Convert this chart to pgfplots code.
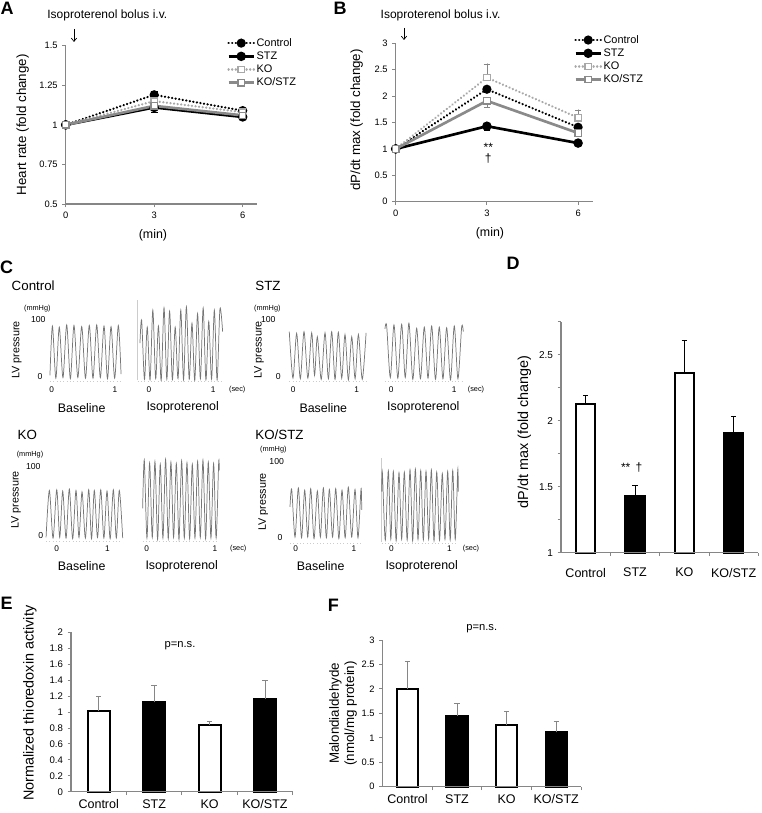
\documentclass[border=0pt]{standalone}
\usepackage{fontspec}
\setmainfont{Liberation Sans}
\usepackage{pgfplots}
\pgfplotsset{compat=1.18}
\usetikzlibrary{arrows.meta}

\definecolor{axgray}{RGB}{134,134,134}
\definecolor{kogray}{RGB}{168,168,168}
\definecolor{kostzgray}{RGB}{138,138,138}
\definecolor{tracegray}{RGB}{118,118,118}
\newcommand{\fsz}[1]{\fontsize{#1}{#1}\selectfont}

\pgfplotsset{
  xl/.style={scale only axis, axis lines=left,
    axis line style={-, draw=axgray, line width=1.1pt},
    tick align=outside, major tick length=2.5pt,
    tick style={draw=axgray, line width=0.7pt},
    /pgf/number format/assume math mode=true, clip=false, axis on top},
  tr/.style={scale only axis, hide axis, clip=false, ymin=-10, ymax=125},
  trl/.style={smooth, tension=0.5, draw=tracegray, line width=0.55pt, no marks},
  zero/.style={draw=gray!40, dotted, line width=0.5pt, no marks},
  ctrl/.style={black, line width=1.8pt, dash pattern=on 0.1pt off 2.6pt, line cap=round,
    mark=*, mark size=2.5pt, mark options={solid, fill=black}},
  stz/.style={black, line width=2pt, mark=*, mark size=2.5pt, mark options={solid, fill=black}},
  ko/.style={kogray, line width=1.8pt, dash pattern=on 0.1pt off 2.6pt, line cap=round,
    mark=square*, mark size=2.4pt, mark options={solid, fill=white, draw=kogray, line width=0.9pt}},
  kostz/.style={kostzgray, line width=2pt, mark=square*, mark size=2.4pt,
    mark options={solid, fill=white, draw=kostzgray, line width=0.9pt}},
  lcurve/.style={legend style={draw=none, fill=none, font=\fsz{8.2}, inner sep=0pt,
      row sep=0.6pt, nodes={inner sep=1pt}},
    legend cell align=left,
    legend image code/.code={\draw[mark repeat=2,mark phase=2,##1] plot coordinates {(0pt,0pt) (9.5pt,0pt) (19pt,0pt)};}},
  bars/.style={xl, ybar, bar shift=0pt, xmin=-0.5, xmax=3.5,
    xtick={0.5,1.5,2.5,3.5}, xticklabels={},
    extra x ticks={0,1,2,3}, extra x tick labels={Control,STZ,KO,KO/STZ},
    extra x tick style={tick style={draw=none}},
    xticklabel style={font=\fsz{9.4}}},
}

\begin{document}
\begin{tikzpicture}[x=0.75pt, y=-0.75pt]
\path[use as bounding box] (0,0) rectangle (762,813);

% ---------- A ----------
\coordinate (cA) at (65.7,204);
\begin{axis}[xl, lcurve, at={(cA)}, anchor=south west, width=143.8pt, height=118.7pt,
    xmin=0, xmax=6.5, ymin=0.5, ymax=1.5,
    xtick={0,3,6}, ytick={0.5,0.75,1,1.25,1.5}, yticklabels={0.5,0.75,1,1.25,1.5},
    ticklabel style={font=\fsz{7}},
    ylabel={Heart rate (fold change)},
    ylabel style={font=\fsz{10}, at={(axis description cs:-0.224,0.5)}, anchor=center},
    xlabel={(min)},
    xlabel style={font=\fsz{9.3}, at={(axis description cs:0.455,-0.196)}, anchor=center},
    legend style={at={(0.841,1.058)}, anchor=north west}]
\addplot[ctrl, error bars/.cd, y dir=plus, y explicit, error bar style={solid, black, line width=0.6pt}]
  coordinates {(0,1) +- (0,0) (3,1.19) +- (0,0.02) (6,1.09) +- (0,0.01)};
\addlegendentry{Control}
\addplot[stz, error bars/.cd, y dir=minus, y explicit, error bar style={solid, black, line width=0.6pt}]
  coordinates {(0,1) +- (0,0) (3,1.11) +- (0,0.03) (6,1.05) +- (0,0.015)};
\addlegendentry{STZ}
\addplot[ko, error bars/.cd, y dir=plus, y explicit, error bar style={solid, axgray, line width=0.6pt}]
  coordinates {(0,1) +- (0,0) (3,1.15) +- (0,0.02) (6,1.08) +- (0,0.01)};
\addlegendentry{KO}
\addplot[kostz, error bars/.cd, y dir=minus, y explicit, error bar style={solid, axgray, line width=0.6pt}]
  coordinates {(0,1) +- (0,0) (3,1.12) +- (0,0.02) (6,1.06) +- (0,0.02)};
\addlegendentry{KO/STZ}
\end{axis}

% ---------- B ----------
\coordinate (cB) at (395.7,201.7);
\begin{axis}[xl, lcurve, at={(cB)}, anchor=south west, width=148.2pt, height=118.8pt,
    xmin=0, xmax=6.5, ymin=0, ymax=3,
    xtick={0,3,6}, ytick={0,0.5,1,1.5,2,2.5,3}, yticklabels={0,0.5,1,1.5,2,2.5,3},
    ticklabel style={font=\fsz{7}},
    ylabel={dP/dt max (fold change)},
    ylabel style={font=\fsz{10}, at={(axis description cs:-0.197,0.516)}, anchor=center},
    xlabel={(min)},
    xlabel style={font=\fsz{9.3}, at={(axis description cs:0.477,-0.198)}, anchor=center},
    legend style={at={(0.902,1.062)}, anchor=north west}]
\addplot[ctrl, error bars/.cd, y dir=plus, y explicit, error bar style={solid, black, line width=0.6pt}]
  coordinates {(0,1) +- (0,0) (3,2.13) +- (0,0.06) (6,1.41) +- (0,0.04)};
\addlegendentry{Control}
\addplot[stz, error bars/.cd, y dir=minus, y explicit, error bar style={solid, black, line width=0.6pt}]
  coordinates {(0,1) +- (0,0) (3,1.43) +- (0,0.08) (6,1.11) +- (0,0.03)};
\addlegendentry{STZ}
\addplot[ko, error bars/.cd, y dir=plus, y explicit, error bar style={solid, axgray, line width=0.6pt}]
  coordinates {(0,1) +- (0,0) (3,2.35) +- (0,0.26) (6,1.59) +- (0,0.15)};
\addlegendentry{KO}
\addplot[kostz, error bars/.cd, y dir=minus, y explicit, error bar style={solid, axgray, line width=0.6pt}]
  coordinates {(0,1) +- (0,0) (3,1.91) +- (0,0.12) (6,1.30) +- (0,0.06)};
\addlegendentry{KO/STZ}
\end{axis}

% ---------- C : LV pressure traces ----------
\coordinate (c1) at (48.5,382.7);
\begin{axis}[tr, at={(c1)}, anchor=south west, width=55.6pt, height=57.4pt, xmin=-0.05, xmax=1.12]
\addplot[zero] coordinates {(-0.027,-8) (1.095,-8)};
\addplot[trl] coordinates {(-0.027,3) (0.012,90) (0.066,-2) (0.120,88) (0.178,-1) (0.237,92) (0.295,-3) (0.352,91) (0.413,-1) (0.474,89) (0.534,-2) (0.594,91) (0.652,-2) (0.711,92) (0.768,-1) (0.826,90) (0.881,-3) (0.937,89) (0.994,-2) (1.052,91) (1.095,5)};
\node[font=\fsz{6.2}] at (axis cs:0,-23) {0};
\node[font=\fsz{6.2}] at (axis cs:1,-23) {1};
\end{axis}
\coordinate (c2) at (137.4,382.7);
\begin{axis}[tr, at={(c2)}, anchor=south west, width=64.6pt, height=57.4pt, xmin=-0.18, xmax=1.16]
\addplot[zero] coordinates {(-0.176,-8) (1.146,-8)};
\addplot[draw=gray!40, line width=0.5pt, no marks] coordinates {(-0.176,-6) (-0.176,136)};
\addplot[trl] coordinates {(-0.14,60) (-0.114,100) (-0.07,-4) (-0.027,88) (0.017,-5) (0.060,118) (0.104,-3) (0.147,90) (0.190,-6) (0.234,122) (0.278,-4) (0.321,116) (0.364,-5) (0.408,88) (0.452,-3) (0.495,118) (0.538,-5) (0.582,124) (0.626,-4) (0.669,95) (0.712,-6) (0.756,112) (0.800,-3) (0.843,122) (0.886,-5) (0.930,98) (0.974,-4) (1.017,118) (1.060,-5) (1.104,120) (1.146,80)};
\node[font=\fsz{6.2}] at (axis cs:0,-23) {0};
\node[font=\fsz{6.2}] at (axis cs:1,-23) {1};
\node[font=\fsz{5.5}] at (axis cs:1.373,-23) {(sec)};
\end{axis}
\coordinate (c3) at (288.2,382.7);
\begin{axis}[tr, at={(c3)}, anchor=south west, width=59.5pt, height=57.4pt, xmin=-0.08, xmax=1.17]
\addplot[zero] coordinates {(-0.063,-8) (1.147,-8)};
\addplot[trl] coordinates {(-0.063,80) (-0.005,-2) (0.053,77) (0.111,-3) (0.169,80) (0.230,-2) (0.290,78) (0.335,3) (0.379,71) (0.440,-4) (0.500,78) (0.553,-3) (0.605,80) (0.658,-4) (0.710,79) (0.763,-2) (0.815,75) (0.868,-5) (0.921,71) (0.974,-3) (1.026,75) (1.087,-4) (1.147,78)};
\node[font=\fsz{6.2}] at (axis cs:0,-23) {0};
\node[font=\fsz{6.2}] at (axis cs:1,-23) {1};
\end{axis}
\coordinate (c4) at (383.7,382.7);
\begin{axis}[tr, at={(c4)}, anchor=south west, width=60.5pt, height=57.4pt, xmin=-0.12, xmax=1.16]
\addplot[zero] coordinates {(-0.1,-8) (1.143,-8)};
\addplot[trl] coordinates {(-0.10,85) (-0.073,90) (-0.015,-1) (0.043,92) (0.104,-2) (0.165,93) (0.222,-1) (0.280,95) (0.342,-4) (0.403,86) (0.463,-3) (0.524,88) (0.583,-2) (0.641,90) (0.702,-4) (0.762,88) (0.820,-3) (0.879,87) (0.940,-5) (1.000,90) (1.058,-3) (1.117,88) (1.143,80)};
\node[font=\fsz{6.2}] at (axis cs:0,-23) {0};
\node[font=\fsz{6.2}] at (axis cs:1,-23) {1};
\node[font=\fsz{5.5}] at (axis cs:1.344,-23) {(sec)};
\end{axis}
\coordinate (c5) at (45.1,542.9);
\begin{axis}[tr, at={(c5)}, anchor=south west, width=58.8pt, height=69.9pt, xmin=-0.23, xmax=1.32]
\addplot[zero] coordinates {(-0.211,-8) (1.304,-8)};
\addplot[trl] coordinates {(-0.211,-2) (-0.146,66) (-0.073,-3) (0.000,67) (0.059,-2) (0.118,65) (0.184,-3) (0.249,68) (0.315,-4) (0.381,66) (0.440,-2) (0.500,64) (0.566,-3) (0.632,67) (0.688,-4) (0.743,66) (0.806,-2) (0.870,67) (0.932,-3) (0.994,65) (1.056,-4) (1.119,67) (1.178,-3) (1.237,66) (1.304,-3)};
\node[font=\fsz{6.2}] at (axis cs:0,-17.8) {0};
\node[font=\fsz{6.2}] at (axis cs:1,-17.8) {1};
\end{axis}
\coordinate (c6) at (141.9,542.9);
\begin{axis}[tr, at={(c6)}, anchor=south west, width=58.9pt, height=69.9pt, xmin=-0.07, xmax=1.08]
\addplot[zero] coordinates {(-0.059,-8) (1.063,-8)};
\addplot[trl] coordinates {(-0.059,40) (-0.035,110) (0.004,-3) (0.043,106) (0.082,-2) (0.121,108) (0.160,-5) (0.199,104) (0.238,-3) (0.277,111) (0.316,-4) (0.355,107) (0.394,-2) (0.434,105) (0.473,-5) (0.512,109) (0.551,-3) (0.590,106) (0.629,-4) (0.668,104) (0.707,-3) (0.746,108) (0.785,-2) (0.824,110) (0.863,-4) (0.902,107) (0.941,-3) (0.980,105) (1.017,-3) (1.054,106) (1.063,95)};
\node[font=\fsz{6.2}] at (axis cs:0,-17.8) {0};
\node[font=\fsz{6.2}] at (axis cs:1,-17.8) {1};
\node[font=\fsz{5.5}] at (axis cs:1.341,-17.8) {(sec)};
\end{axis}
\coordinate (c7) at (289.3,544.6);
\begin{axis}[tr, at={(c7)}, anchor=south west, width=55.1pt, height=76.5pt, xmin=-0.11, xmax=1.15]
\addplot[zero] coordinates {(-0.098,-8) (1.132,-8)};
\addplot[trl] coordinates {(-0.098,40) (-0.069,63) (-0.012,0) (0.045,65) (0.100,-1) (0.154,62) (0.206,0) (0.257,64) (0.314,-2) (0.371,61) (0.423,0) (0.474,65) (0.526,-1) (0.577,63) (0.632,0) (0.686,64) (0.740,-2) (0.794,62) (0.848,-1) (0.902,66) (0.960,0) (1.017,63) (1.068,-1) (1.120,64) (1.132,36)};
\node[font=\fsz{6.2}] at (axis cs:0,-15) {0};
\node[font=\fsz{6.2}] at (axis cs:1,-15) {1};
\end{axis}
\coordinate (c8) at (380.9,544.6);
\begin{axis}[tr, at={(c8)}, anchor=south west, width=58.7pt, height=76.5pt, xmin=-0.18, xmax=1.17]
\addplot[zero] coordinates {(-0.166,-8) (1.155,-8)};
\addplot[draw=gray!40, line width=0.5pt, no marks] coordinates {(-0.166,-6) (-0.166,104)};
\addplot[trl] coordinates {(-0.166,60) (-0.155,86) (-0.104,-4) (-0.052,88) (-0.009,-3) (0.034,87) (0.083,-5) (0.132,85) (0.178,-3) (0.224,86) (0.273,-4) (0.322,89) (0.368,-5) (0.414,90) (0.460,-3) (0.507,88) (0.552,-4) (0.598,87) (0.644,-3) (0.690,89) (0.736,-5) (0.783,86) (0.831,-4) (0.879,84) (0.925,-3) (0.972,87) (1.015,-4) (1.059,88) (1.102,-3) (1.145,89) (1.155,60)};
\node[font=\fsz{6.2}] at (axis cs:0,-15) {0};
\node[font=\fsz{6.2}] at (axis cs:1,-15) {1};
\node[font=\fsz{5.5}] at (axis cs:1.374,-15) {(sec)};
\end{axis}

% ---------- D ----------
\coordinate (cD) at (561,552.7);
\begin{axis}[bars, at={(cD)}, anchor=south west, width=148pt, height=173.25pt,
    ymin=1, ymax=2.75, bar width=14.5pt,
    xticklabel style={yshift=-5.5pt},
    ytick={1,1.25,1.5,1.75,2,2.25,2.5,2.75}, yticklabels={1,,1.5,,2,,2.5,},
    yticklabel style={font=\fsz{7.5}},
    ylabel={dP/dt max (fold change)},
    ylabel style={font=\fsz{10.8}, at={(axis description cs:-0.186,0.524)}, anchor=center}]
\addplot[fill=white, draw=black, line width=1.5pt, error bars/.cd, y dir=plus, y explicit,
  error bar style={black, line width=0.6pt}]
  coordinates {(0,2.13) +- (0,0.06) (2,2.36) +- (0,0.25)};
\addplot[fill=black, draw=black, line width=1.5pt, error bars/.cd, y dir=plus, y explicit,
  error bar style={black, line width=0.6pt}]
  coordinates {(1,1.43) +- (0,0.08) (3,1.91) +- (0,0.12)};
\end{axis}

% ---------- E ----------
\coordinate (cE) at (71,791.7);
\begin{axis}[bars, at={(cE)}, anchor=south west, width=166.3pt, height=119.5pt,
    ymin=0, ymax=2, bar width=16.5pt,
    ytick={0,0.2,0.4,0.6,0.8,1,1.2,1.4,1.6,1.8,2},
    yticklabels={0,0.2,0.4,0.6,0.8,1,1.2,1.4,1.6,1.8,2},
    yticklabel style={font=\fsz{7.2}},
    ylabel={Normalized thioredoxin activity},
    ylabel style={font=\fsz{10.8}, at={(axis description cs:-0.185,0.555)}, anchor=center}]
\addplot[fill=white, draw=black, line width=1.5pt, error bars/.cd, y dir=plus, y explicit,
  error bar style={axgray, line width=0.6pt}]
  coordinates {(0,1.01) +- (0,0.19) (2,0.84) +- (0,0.04)};
\addplot[fill=black, draw=black, line width=1.5pt, error bars/.cd, y dir=plus, y explicit,
  error bar style={axgray, line width=0.6pt}]
  coordinates {(1,1.12) +- (0,0.22) (3,1.17) +- (0,0.23)};
\end{axis}

% ---------- F ----------
\coordinate (cF) at (382.7,786.7);
\begin{axis}[bars, at={(cF)}, anchor=south west, width=148.7pt, height=110pt,
    ymin=0, ymax=3, bar width=16pt,
    ytick={0,0.5,1,1.5,2,2.5,3}, yticklabels={0,0.5,1,1.5,2,2.5,3},
    yticklabel style={font=\fsz{7}},
    ylabel={Malondialdehyde\\(nmol/mg protein)},
    ylabel style={font=\fontsize{10}{11.3}\selectfont, align=center,
      at={(axis description cs:-0.2,0.5)}, anchor=center}]
\addplot[fill=white, draw=black, line width=1.5pt, error bars/.cd, y dir=plus, y explicit,
  error bar style={axgray, line width=0.6pt}]
  coordinates {(0,2.00) +- (0,0.56) (2,1.26) +- (0,0.28)};
\addplot[fill=black, draw=black, line width=1.5pt, error bars/.cd, y dir=plus, y explicit,
  error bar style={axgray, line width=0.6pt}]
  coordinates {(1,1.45) +- (0,0.25) (3,1.11) +- (0,0.22)};
\end{axis}

% ---------- labels ----------
\begin{scope}[every node/.style={font=\bfseries\fsz{13.5}}]
\node at (7,8.5) {A};
\node at (340,8.5) {B};
\node at (6.5,267) {C};
\node at (513,263) {D};
\node at (6.7,603.3) {E};
\node at (333.3,605) {F};
\end{scope}

\node[anchor=west, font=\fsz{9}] at (42.7,15) {Isoproterenol bolus i.v.};
\node[anchor=west, font=\fsz{9}] at (376,15) {Isoproterenol bolus i.v.};
\draw[line width=0.5pt, -{Straight Barb[length=2.5pt, width=4pt]}] (74,29) -- (74,42);
\draw[line width=0.5pt, -{Straight Barb[length=2.5pt, width=4pt]}] (404,28) -- (404,40);

\node[anchor=base, font=\fsz{9}, inner sep=0pt] at (488.3,151.5) {**};
\node[anchor=base, font=\fsz{9}, inner sep=0pt] at (488.3,162.5) {†};
\node[anchor=base, font=\fsz{9}] at (631.7,471) {** \,†};
\node[font=\fsz{8.4}] at (180,646) {p=n.s.};
\node[font=\fsz{8.4}] at (481.7,628.3) {p=n.s.};

% C texts
\begin{scope}[every node/.style={font=\fsz{10}}]
\node[anchor=west] at (7,285.7) {Control};
\node[anchor=west] at (250.7,285.7) {STZ};
\node[anchor=west] at (13,435) {KO};
\node[anchor=west] at (250.7,435) {KO/STZ};
\end{scope}
\begin{scope}[every node/.style={font=\fsz{5.5}}]
\node at (37.3,308.3) {(mmHg)};
\node at (267.3,308.3) {(mmHg)};
\node at (30,455) {(mmHg)};
\node at (273.3,450) {(mmHg)};
\end{scope}
\begin{scope}[every node/.style={font=\fsz{6.5}}]
\node at (38.3,320) {100};
\node at (268.3,320) {100};
\node at (33.3,466.7) {100};
\node at (276.7,461.7) {100};
\node at (40,376.7) {0};
\node at (278.3,376.7) {0};
\node at (40.7,535.7) {0};
\node at (280,537.3) {0};
\end{scope}
\begin{scope}[every node/.style={font=\fsz{8.1}, rotate=90}]
\node at (16.7,350) {LV pressure};
\node at (259,350) {LV pressure};
\node at (16,500) {LV pressure};
\node at (263.3,501.7) {LV pressure};
\end{scope}
\begin{scope}[every node/.style={font=\fsz{9.3}}]
\node at (81.7,407.7) {Baseline};
\node at (182.7,407.7) {Isoproterenol};
\node at (323.3,407.7) {Baseline};
\node at (423.3,407.7) {Isoproterenol};
\node at (81.7,566) {Baseline};
\node at (181.7,566) {Isoproterenol};
\node at (320.7,566) {Baseline};
\node at (421.7,566) {Isoproterenol};
\end{scope}
\end{tikzpicture}
\end{document}
